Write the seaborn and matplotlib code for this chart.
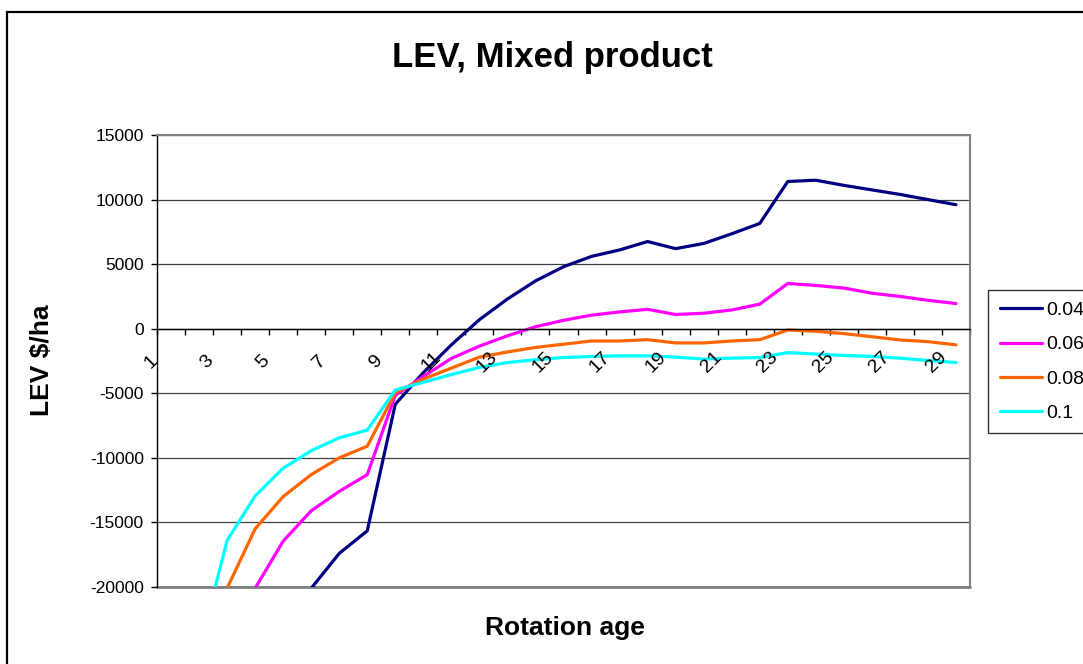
import numpy as np
import pandas as pd
import matplotlib
matplotlib.use("Agg")
import matplotlib.pyplot as plt
import matplotlib.transforms as mtransforms
from matplotlib.patches import Rectangle
import seaborn as sns

# rotation age (categories)
ages = list(range(1, 30))

# LEV values ($/ha), one list per interest rate
lev_004 = [-52000, -41000, -33000, -27000, -23000, -20100, -17400, -15650, -5850, -3400,
           -1250, 700, 2300, 3700, 4800, 5600, 6100, 6750, 6200, 6600,
           7350, 8150, 11400, 11500, 11100, 10750, 10400, 10000, 9600]
lev_006 = [-45000, -33000, -25500, -20100, -16450, -14100, -12600, -11300, -5150, -3700,
           -2300, -1350, -550, 150, 650, 1050, 1300, 1500, 1100, 1200,
           1450, 1900, 3500, 3350, 3150, 2750, 2500, 2200, 1950]
lev_008 = [-36000, -26500, -20100, -15500, -13000, -11300, -10000, -9100, -4950, -3900,
           -3050, -2200, -1800, -1450, -1200, -950, -950, -850, -1100, -1100,
           -950, -850, -100, -200, -380, -620, -870, -1000, -1250]
lev_010 = [-33000, -24900, -16400, -12950, -10800, -9450, -8450, -7850, -4750, -4150,
           -3550, -3000, -2620, -2400, -2230, -2150, -2100, -2100, -2200, -2350,
           -2280, -2230, -1850, -1960, -2070, -2150, -2280, -2460, -2620]

rates = ["0.04", "0.06", "0.08", "0.1"]
colors = {"0.04": "#000080", "0.06": "#FF00FF", "0.08": "#FF6600", "0.1": "#00FFFF"}

df = pd.concat([
    pd.DataFrame({"age": ages, "LEV": lev_004, "rate": "0.04"}),
    pd.DataFrame({"age": ages, "LEV": lev_006, "rate": "0.06"}),
    pd.DataFrame({"age": ages, "LEV": lev_008, "rate": "0.08"}),
    pd.DataFrame({"age": ages, "LEV": lev_010, "rate": "0.1"}),
])

sns.set_style("white")
plt.rcParams["font.family"] = ["Liberation Sans", "DejaVu Sans"]
plt.rcParams["axes.unicode_minus"] = False
plt.rcParams["text.color"] = "black"
plt.rcParams["xtick.color"] = "black"
plt.rcParams["ytick.color"] = "black"

W, H = 1083, 664
fig = plt.figure(figsize=(W / 100, H / 100), dpi=100)
ax = fig.add_axes([157 / W, 1 - 587 / H, (970 - 157) / W, (587 - 135) / H])

# outer chart border (runs off the right and bottom like the reference)
fig.patches.append(Rectangle((6.5 / W, -0.2), 1.2, 0.2 + 1 - 12.5 / H, transform=fig.transFigure,
                             fill=False, edgecolor="black", linewidth=1.6, zorder=10))

sns.lineplot(data=df, x="age", y="LEV", hue="rate", hue_order=rates, palette=colors,
             linewidth=2.3, ax=ax, sort=False)

ax.set_xlim(0.5, 29.5)
ax.set_ylim(-20000, 15000)
ax.set_yticks(np.arange(-20000, 15001, 5000))
ax.yaxis.grid(True, color="#404040", linewidth=0.9)
ax.set_axisbelow(True)
ax.axhline(-20000, color="#808080", linewidth=2, clip_on=False, zorder=0.5)
ax.tick_params(axis="y", direction="out", length=4.5, width=1, color="black",
               labelsize=12.5, labelcolor="black", pad=5, left=True)

# category axis crosses at zero
ax.spines["bottom"].set_position(("data", 0))
ax.spines["bottom"].set_color("black")
ax.spines["bottom"].set_linewidth(1)
ax.spines["left"].set_color("black")
ax.spines["left"].set_linewidth(1)
for s in ["top", "right"]:
    ax.spines[s].set_color("#808080")
    ax.spines[s].set_linewidth(1.5)

ax.set_xticks(np.arange(0.5, 29.6, 1))
ax.set_xticklabels([])
ax.tick_params(axis="x", direction="out", length=4.5, width=1, color="black", bottom=True)

offset = mtransforms.ScaledTranslation(-0.2, -0.33, fig.dpi_scale_trans)
for a in ages[::2]:
    ax.text(a, 0, str(a), rotation=45, ha="center", va="center", fontsize=14,
            color="black", transform=ax.transData + offset, clip_on=False)

ax.set_xlabel("")
ax.set_ylabel("")

h, l = ax.get_legend_handles_labels()
leg = ax.legend(h, l, loc="upper left", bbox_to_anchor=(988 / W, 1 - 290 / H),
                bbox_transform=fig.transFigure, frameon=True, fancybox=False,
                edgecolor="black", fontsize=14, handlelength=2.2, handletextpad=0.2,
                labelspacing=0.85, borderpad=0.6, borderaxespad=0)
leg.get_frame().set_linewidth(1)
for t in leg.get_texts():
    t.set_color("black")

fig.text(552 / W, 1 - 58 / H, "LEV, Mixed product", ha="center", va="center",
         fontsize=25, fontweight="bold", color="black")
fig.text(42 / W, 1 - 360 / H, "LEV $/ha", ha="center", va="center", rotation=90,
         fontsize=19, fontweight="bold", color="black")
fig.text(565 / W, 1 - 628 / H, "Rotation age", ha="center", va="center",
         fontsize=19, fontweight="bold", color="black")

fig.savefig("out.png", dpi=100)
